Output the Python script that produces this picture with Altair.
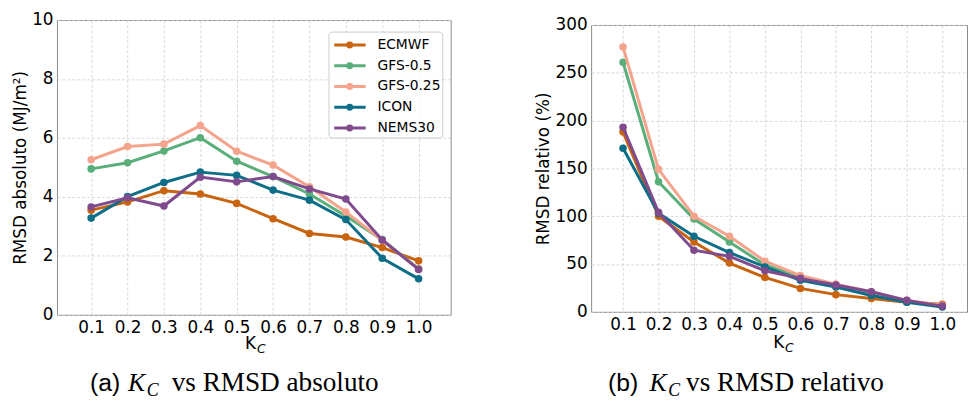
import altair as alt
import pandas as pd

# ---------------- data ----------------
K = [0.1, 0.2, 0.3, 0.4, 0.5, 0.6, 0.7, 0.8, 0.9, 1.0]
SERIES = ["ECMWF", "GFS-0.5", "GFS-0.25", "ICON", "NEMS30"]
COLORS = ["#c8640f", "#5aae7a", "#f4a38c", "#0e6e87", "#7f4b8d"]

ABS_ECMWF = [3.55, 3.83, 4.21, 4.10, 3.78, 3.26, 2.76, 2.64, 2.28, 1.83]
ABS_GFS05 = [4.95, 5.16, 5.56, 6.01, 5.21, 4.69, 4.10, 3.35, 2.55, 1.56]
ABS_GFS025 = [5.26, 5.71, 5.79, 6.42, 5.55, 5.08, 4.34, 3.49, 2.53, 1.55]
ABS_ICON = [3.28, 4.01, 4.49, 4.84, 4.73, 4.23, 3.89, 3.23, 1.92, 1.22]
ABS_NEMS30 = [3.66, 3.97, 3.69, 4.67, 4.51, 4.69, 4.27, 3.93, 2.54, 1.54]

REL_ECMWF = [188, 100, 73, 51, 36, 24.5, 18, 14, 10, 8]
REL_GFS05 = [261, 136, 97, 73, 49, 36, 28, 19, 11, 6]
REL_GFS025 = [277, 149, 100, 79, 53, 38, 29, 21, 12, 7]
REL_ICON = [171, 103, 79, 62, 47, 33, 26, 17, 10, 5]
REL_NEMS30 = [193, 104, 64.5, 58, 43, 35, 28, 21, 12, 6]

ABS_TICKS = [0, 2, 4, 6, 8, 10]
REL_TICKS = [0, 50, 100, 150, 200, 250, 300]


def long_df(cols):
    rows = []
    for name, vals in zip(SERIES, cols):
        for k, v in zip(K, vals):
            rows.append({"K": k, "model": name, "value": v})
    return pd.DataFrame(rows)


abs_df = long_df([ABS_ECMWF, ABS_GFS05, ABS_GFS025, ABS_ICON, ABS_NEMS30])
rel_df = long_df([REL_ECMWF, REL_GFS05, REL_GFS025, REL_ICON, REL_NEMS30])

SYMBOL_PATH = ("M-0.73,0H2.29"
               "M0.95,0A0.19,0.19,0,1,1,0.57,0A0.19,0.19,0,1,1,0.95,0Z")

FONT = "DejaVu Sans"
one = pd.DataFrame({"a": [0]})


def text_layer(txt, x, y, font, size, style="normal"):
    return alt.Chart(one).mark_text(
        text=txt, font=font, fontSize=size, fontStyle=style,
        align="left", baseline="alphabetic", color="black"
    ).encode(x=alt.value(x), y=alt.value(y))


def panel(df, ymax, yticks, ytitle, width, height, x0, pxu, title_x,
          legend_x, legend_y, kc, caption):
    legend = alt.Legend(
        title=None, orient="none", legendX=legend_x, legendY=legend_y,
        direction="vertical",
        labelFont=FONT, labelFontSize=14, labelColor="black",
        symbolType=SYMBOL_PATH, symbolSize=441, symbolStrokeWidth=3,
        symbolOpacity=1,
        rowPadding=1, labelOffset=24, padding=1.5,
        fillColor="rgba(255,255,255,0.8)", strokeColor="#cccccc",
        cornerRadius=3,
    )
    x = alt.X("K:Q", scale=alt.Scale(domain=[x0, x0 + width / pxu], nice=False, zero=False),
              axis=alt.Axis(values=K, format=".1f", title=None, labelFont=FONT,
                            labelFontSize=17, labelColor="black", labelPadding=5,
                            ticks=False, domain=False, labelOverlap=False,
                            labelFlush=False,
                            grid=True, gridDash=[3, 2], gridColor="#cfcfcf", gridWidth=0.8))
    y = alt.Y("value:Q", scale=alt.Scale(domain=[0, ymax], nice=False),
              axis=alt.Axis(values=yticks, title=ytitle, labelFont=FONT,
                            labelFontSize=17, labelColor="black", labelPadding=4,
                            ticks=False, domain=False, labelOverlap=False,
                            titleFont=FONT, titleFontSize=17, titleFontWeight="normal",
                            titleColor="black", titleX=title_x, titleY=height / 2,
                            titleBaseline="middle", titleAngle=270,
                            grid=True, gridDash=[3, 2], gridColor="#cfcfcf", gridWidth=0.8))
    color = alt.Color("model:N", scale=alt.Scale(domain=SERIES, range=COLORS), legend=legend)
    layers = []
    for s in SERIES:
        layers.append(
            alt.Chart(df).transform_filter(alt.datum.model == s).mark_line(
                strokeWidth=3,
                point=alt.OverlayMarkDef(filled=True, size=58, opacity=1),
            ).encode(x=x, y=y, color=color)
        )
    # axis title K_C (with subscript)
    kx, ky = kc
    layers.append(text_layer("K", kx, ky, FONT, 17))
    layers.append(text_layer("C", kx + 12, ky + 3.5, FONT, 12.5, "italic"))
    # caption
    (lab, lx), kkx, (rest, rx), cy = caption
    layers.append(text_layer(lab, lx, cy, "Liberation Sans", 25))
    layers.append(text_layer("K", kkx, cy, "Liberation Serif", 26, "italic"))
    layers.append(text_layer("C", kkx + 19, cy + 5, "Liberation Serif", 18, "italic"))
    layers.append(text_layer(rest, rx, cy, "Liberation Serif", 27.5))
    return alt.layer(*layers).properties(width=width, height=height)


left = panel(abs_df, 10, ABS_TICKS, "RMSD absoluto (MJ/m²)", 398, 298, 0.006, 367.8,
             -36.5, 274.5, 11.7, (190.2, 332.7),
             (("(a)", 33.5), 71.8, ("vs RMSD absoluto", 116), 374.7))

right = panel(rel_df, 300, REL_TICKS, "RMSD relativo (%)", 380, 290, 0.01, 358.6,
              -48, 267.3, 10, (184, 326.7),
              (("(b)", 17), 59, ("vs RMSD relativo", 96), 369.7))

spacer = alt.Chart(one).mark_text(text="").encode(
    x=alt.value(0), y=alt.value(0)
).properties(width=380, height=5,
             view=alt.ViewBackground(stroke="transparent", strokeWidth=0))

right_col = alt.vconcat(spacer, right, spacing=0, bounds="flush")

chart = alt.hconcat(left, right_col, spacing=142, bounds="flush").properties(
    padding={"left": 3.5, "top": 0, "right": 0, "bottom": 0}
).configure_view(stroke="#8a8a8a", strokeWidth=1)

chart.save("out.html", embed_options={"renderer": "svg", "actions": False})
